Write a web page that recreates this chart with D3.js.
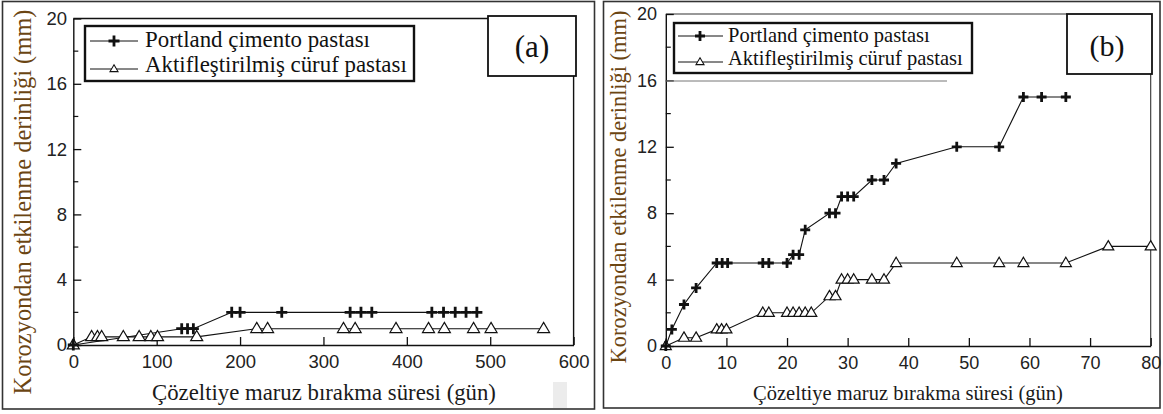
<!DOCTYPE html>
<html><head><meta charset="utf-8">
<script src="https://cdn.jsdelivr.net/npm/d3@7"></script>
<style>body{margin:0;background:#fff}</style></head>
<body>
<svg id="c" width="1163" height="414"></svg>
<script>
// ---- data ----
const seriesNames = ["Portland çimento pastası", "Aktifleştirilmiş cüruf pastası"];
const yTitle = "Korozyondan etkilenme derinliği (mm)";
const xTitle = "Çözeltiye maruz bırakma süresi (gün)";
const panelLabels = ["(a)", "(b)"];
const xTicksA = [0, 100, 200, 300, 400, 500, 600];
const xTicksB = [0, 10, 20, 30, 40, 50, 60, 70, 80];
const yTicks = [0, 4, 8, 12, 16, 20];
const yMinorTicks = [2, 6, 10, 14, 18];

// panel (a)
const daysA_P  = [0, 130, 137, 144, 190, 200, 250, 332, 345, 358, 430, 444, 458, 471, 484];
const depthA_P = [0, 1, 1, 1, 2, 2, 2, 2, 2, 2, 2, 2, 2, 2, 2];
const daysA_A  = [0, 22, 29, 34, 60, 79, 93, 101, 148, 220, 233, 324, 338, 387, 426, 445, 480, 501, 564];
const depthA_A = [0, 0.5, 0.5, 0.5, 0.5, 0.5, 0.5, 0.5, 0.5, 1, 1, 1, 1, 1, 1, 1, 1, 1, 1];

// panel (b)
const daysB_P  = [0, 1, 3, 5, 8.4, 9.3, 10.2, 16, 17, 20, 21, 22, 23, 27, 28, 29, 30, 31, 34, 36, 38, 48, 55, 59, 62, 66];
const depthB_P = [0, 1, 2.5, 3.5, 5, 5, 5, 5, 5, 5, 5.5, 5.5, 7, 8, 8, 9, 9, 9, 10, 10, 11, 12, 12, 15, 15, 15];
const daysB_A  = [0, 3, 5, 8.4, 9.2, 10, 16, 17, 20, 21, 22, 23, 24, 27, 28, 29, 30, 31, 34, 36, 38, 48, 55, 59, 66, 73, 80];
const depthB_A = [0, 0.5, 0.5, 1, 1, 1, 2, 2, 2, 2, 2, 2, 2, 3, 3, 4, 4, 4, 4, 4, 5, 5, 5, 5, 5, 6, 6];

// ---- layout ----
const svg = d3.select("#c");
const SERIF = "'Liberation Serif','Times New Roman',serif";
const SANS = "'Liberation Sans',Arial,sans-serif";
const TITLE_COLOR = "#6b4512";

function fit(t, w) {
  t.attr("font-size", 20);
  const l = t.node().getComputedTextLength();
  const fs = 20 * w / l;
  t.attr("font-size", fs);
  return fs;
}

const plusPath = s => `M${-s},0H${s}M0,${-s}V${s}`;
const triPath = (w) => { const h = w * 0.85; return `M0,${-h * 0.62}L${w / 2},${h * 0.38}L${-w / 2},${h * 0.38}Z`; };

const panels = [
  { outer: [2.5, 1.5, 592, 407.5], px0: 73.3, px1: 573.6, py0: 345, py1: 18.5, xmax: 600, xticks: xTicksA,
    frameColor: "#111", frameW: 1.4,
    P: [daysA_P, depthA_P], A: [daysA_A, depthA_A],
    label: panelLabels[0], lbox: [488, 16, 88, 60], lcx: 532, lby: 57, lfs: 31,
    legend: { box: [85, 26, 329, 55], l1: 41, l2: 69, lx0: 90, lx1: 138, mx: 114, tx: 145, b1: 47, b2: 72, w2: 262 },
    ytitle: { x: 22, y: 202, w: 385 }, xtitle: { x: 324, y: 400, w: 344 },
    ylabX: 67, tickFs: 18.5, plusS: 5.5, plusW: 2.8, triW: 12 },
  { outer: [603.5, 1.5, 556.5, 406.5], px0: 665.8, px1: 1150.7, py0: 346, py1: 14, xmax: 80, xticks: xTicksB,
    frameColor: "#333", frameW: 1.1,
    P: [daysB_P, depthB_P], A: [daysB_A, depthB_A],
    label: panelLabels[1], lbox: [1067, 14, 85, 60], lcx: 1107, lby: 56, lfs: 30,
    legend: { box: [674, 23, 298, 50], l1: 36, l2: 62, lx0: 678, lx1: 723, mx: 700, tx: 728, b1: 42, b2: 65, w2: 235 },
    ytitle: { x: 618, y: 187, w: 353 }, xtitle: { x: 908, y: 400, w: 310 },
    ylabX: 657, tickFs: 18, plusS: 5, plusW: 2.8, triW: 11 }
];

// scan artefacts from the original figure
svg.append("rect").attr("x", 553).attr("y", 382).attr("width", 14).attr("height", 26).attr("fill", "#ececec");

panels.forEach((p, i) => {
  const g = svg.append("g");
  const [ox, oy, ow, oh] = p.outer;
  g.append("rect").attr("x", ox).attr("y", oy).attr("width", ow).attr("height", oh)
    .attr("fill", "none").attr("stroke", "#333").attr("stroke-width", 1.6);

  const x = d3.scaleLinear().domain([0, p.xmax]).range([p.px0, p.px1]);
  const y = d3.scaleLinear().domain([0, 20]).range([p.py0, p.py1]);

  // frame
  g.append("line").attr("x1", p.px0).attr("x2", p.lbox[0]).attr("y1", p.py1).attr("y2", p.py1)
    .attr("stroke", p.frameColor).attr("stroke-width", p.frameW);
  g.append("line").attr("x1", p.px1).attr("x2", p.px1).attr("y1", p.lbox[1] + p.lbox[3]).attr("y2", p.py0)
    .attr("stroke", p.frameColor).attr("stroke-width", p.frameW);

  // x axis (ticks inward)
  const xa = g.append("g").attr("transform", `translate(0,${p.py0})`)
    .call(d3.axisBottom(x).tickValues(p.xticks).tickSizeInner(-8).tickSizeOuter(0).tickPadding(14));
  xa.select(".domain").attr("stroke", "#111").attr("stroke-width", 1.4);
  xa.selectAll(".tick line").attr("stroke", "#111").attr("stroke-width", 1.3);
  xa.selectAll(".tick text").attr("font-family", SANS).attr("font-size", p.tickFs).attr("fill", "#222")
    .attr("dy", "0.5em");

  // y axis
  const ya = g.append("g").attr("transform", `translate(${p.px0},0)`)
    .call(d3.axisLeft(y).tickValues(yTicks).tickSizeInner(-8).tickSizeOuter(0).tickPadding(p.px0 - p.ylabX));
  ya.select(".domain").attr("stroke", "#111").attr("stroke-width", 1.4);
  ya.selectAll(".tick line").attr("stroke", "#111").attr("stroke-width", 1.3);
  ya.selectAll(".tick text").attr("font-family", SANS).attr("font-size", p.tickFs).attr("fill", "#222");
  g.selectAll(".minor").data(yMinorTicks).join("line")
    .attr("x1", p.px0).attr("x2", p.px0 + 5).attr("y1", d => y(d)).attr("y2", d => y(d))
    .attr("stroke", "#111").attr("stroke-width", 1.2);

  // series
  const line = d3.line().x(d => x(d[0])).y(d => y(d[1]));
  const ptsA = p.A[0].map((d, k) => [d, p.A[1][k]]);
  const ptsP = p.P[0].map((d, k) => [d, p.P[1][k]]);
  g.append("path").datum(ptsA).attr("d", line).attr("fill", "none").attr("stroke", "#111").attr("stroke-width", 1.1);
  g.append("path").datum(ptsP).attr("d", line).attr("fill", "none").attr("stroke", "#111").attr("stroke-width", 1.1);
  g.selectAll(".tri").data(ptsA).join("path")
    .attr("transform", d => `translate(${x(d[0])},${y(d[1])})`)
    .attr("d", triPath(p.triW)).attr("fill", "#fff").attr("stroke", "#111").attr("stroke-width", 1.2);
  g.selectAll(".plus").data(ptsP).join("path")
    .attr("transform", d => `translate(${x(d[0])},${y(d[1])})`)
    .attr("d", plusPath(p.plusS)).attr("fill", "none").attr("stroke", "#111").attr("stroke-width", p.plusW);

  // legend
  const L = p.legend;
  if (i === 1) {
    g.append("line").attr("x1", p.px0).attr("x2", 947).attr("y1", 81).attr("y2", 81)
      .attr("stroke", "#777").attr("stroke-width", 1);
  }
  g.append("rect").attr("x", L.box[0]).attr("y", L.box[1]).attr("width", L.box[2]).attr("height", L.box[3])
    .attr("fill", "#fff").attr("stroke", "#111").attr("stroke-width", 2.4);
  [L.l1, L.l2].forEach((ly, k) => {
    g.append("line").attr("x1", L.lx0).attr("x2", L.lx1).attr("y1", ly).attr("y2", ly)
      .attr("stroke", "#111").attr("stroke-width", 1);
    g.append("path").attr("transform", `translate(${L.mx},${ly})`)
      .attr("d", k === 0 ? plusPath(p.plusS) : triPath(8))
      .attr("fill", k === 0 ? "none" : "#fff").attr("stroke", "#111")
      .attr("stroke-width", k === 0 ? p.plusW : 1.1);
  });
  const t2 = g.append("text").attr("x", L.tx).attr("y", L.b2).attr("font-family", SERIF).attr("fill", "#111")
    .text(seriesNames[1]);
  const fs = fit(t2, L.w2);
  g.append("text").attr("x", L.tx).attr("y", L.b1).attr("font-family", SERIF).attr("fill", "#111")
    .attr("font-size", fs).text(seriesNames[0]);

  // panel label box
  g.append("rect").attr("x", p.lbox[0]).attr("y", p.lbox[1]).attr("width", p.lbox[2]).attr("height", p.lbox[3])
    .attr("fill", "#fff").attr("stroke", "#111").attr("stroke-width", 1.8);
  g.append("text").attr("x", p.lcx).attr("y", p.lby).attr("text-anchor", "middle")
    .attr("font-family", SERIF).attr("font-size", p.lfs).attr("fill", "#111").text(p.label);

  // titles
  const yt = g.append("text").attr("transform", `translate(${p.ytitle.x},${p.ytitle.y}) rotate(-90)`)
    .attr("text-anchor", "middle").attr("dominant-baseline", "central")
    .attr("font-family", SERIF).attr("fill", TITLE_COLOR).text(yTitle);
  fit(yt, p.ytitle.w);
  const xt = g.append("text").attr("x", p.xtitle.x).attr("y", p.xtitle.y).attr("text-anchor", "middle")
    .attr("font-family", SERIF).attr("fill", "#1a1a1a").text(xTitle);
  fit(xt, p.xtitle.w);
});
</script>
</body></html>
